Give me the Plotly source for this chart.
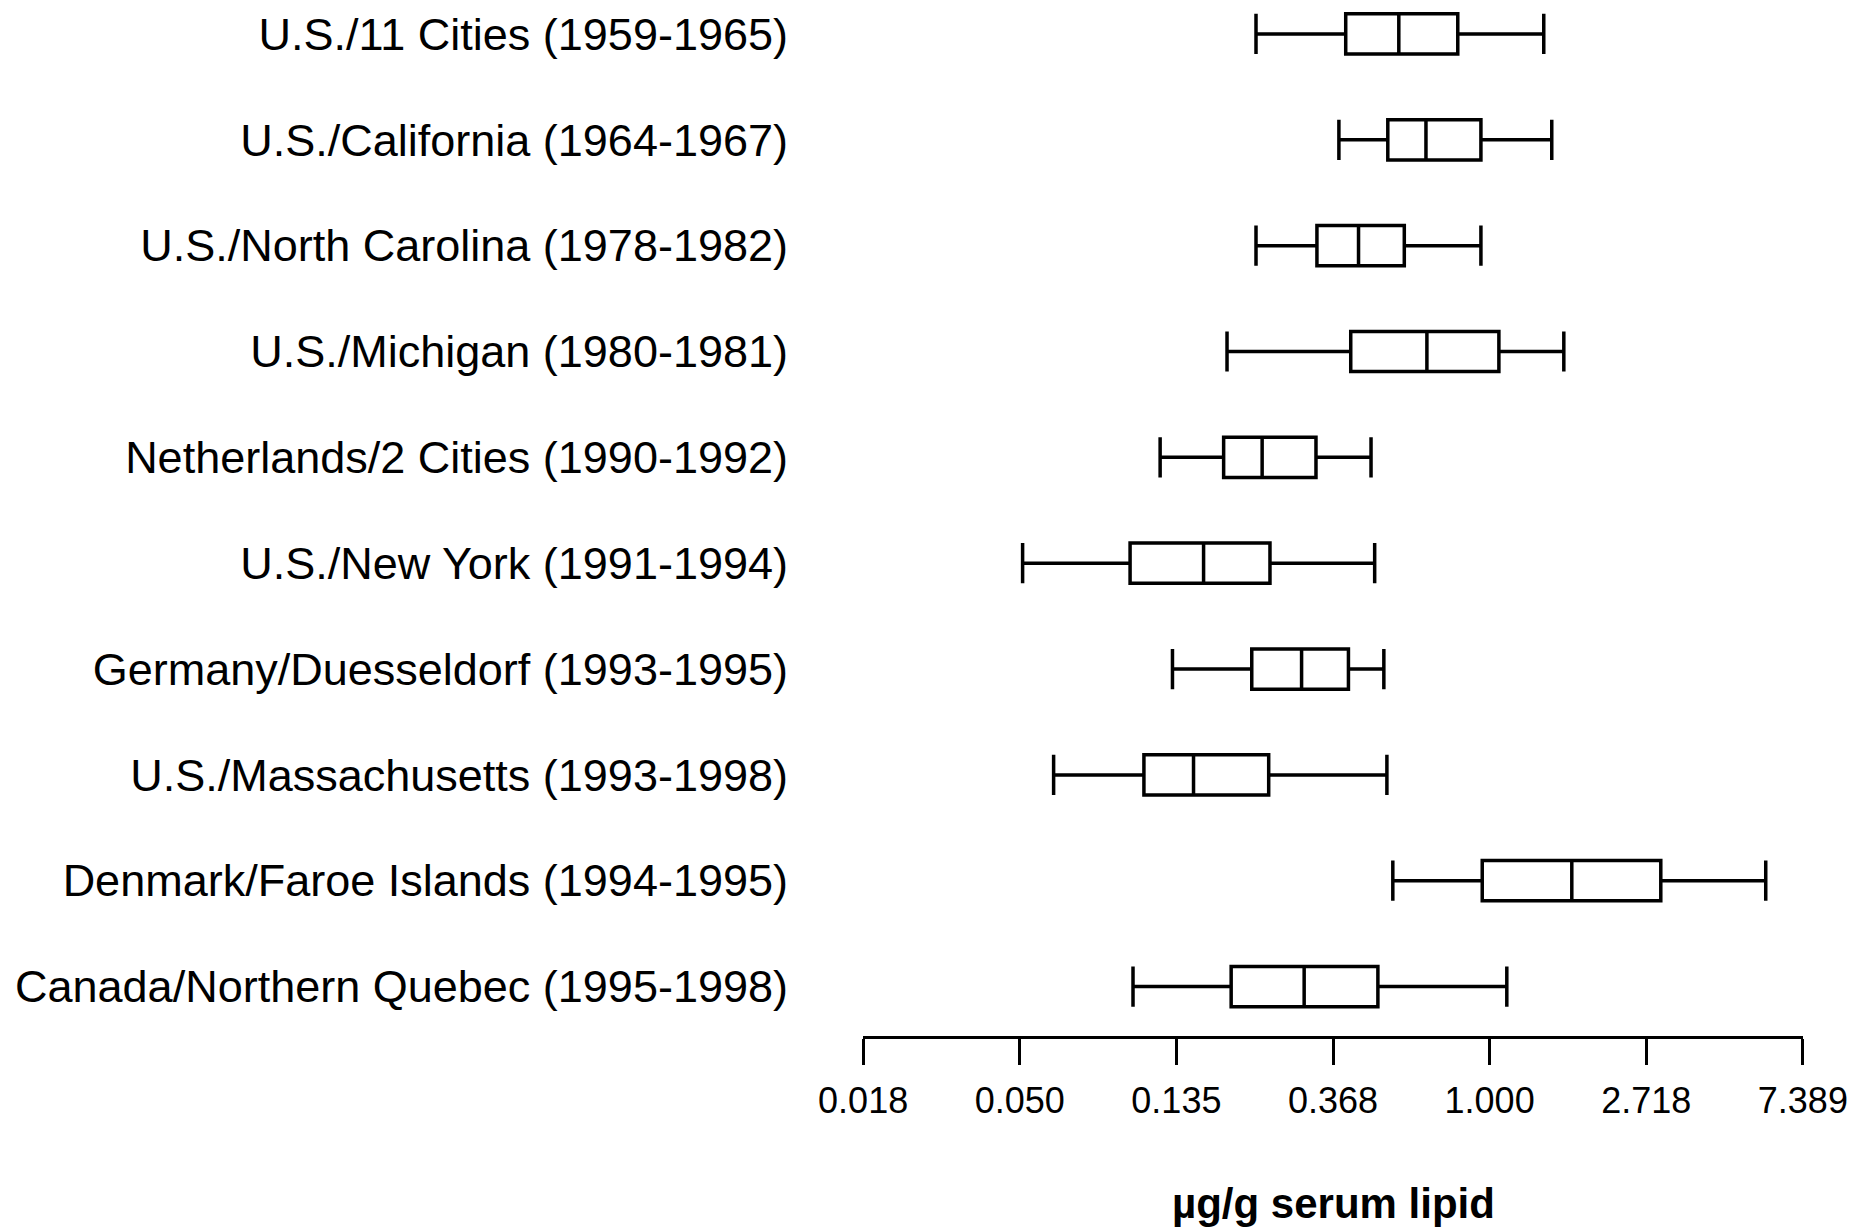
import math
import plotly.graph_objects as go

studies = [
    "U.S./11 Cities (1959-1965)",
    "U.S./California (1964-1967)",
    "U.S./North Carolina (1978-1982)",
    "U.S./Michigan (1980-1981)",
    "Netherlands/2 Cities (1990-1992)",
    "U.S./New York (1991-1994)",
    "Germany/Duesseldorf (1993-1995)",
    "U.S./Massachusetts (1993-1998)",
    "Denmark/Faroe Islands (1994-1995)",
    "Canada/Northern Quebec (1995-1998)",
]
lower_whisker = [0.225, 0.382, 0.225, 0.187, 0.122, 0.0507, 0.132, 0.0618, 0.539, 0.1026]
q1_values = [0.399, 0.522, 0.332, 0.412, 0.183, 0.1007, 0.219, 0.110, 0.954, 0.192]
median_values = [0.560, 0.666, 0.433, 0.670, 0.234, 0.161, 0.301, 0.151, 1.690, 0.306]
q3_values = [0.816, 0.946, 0.580, 1.061, 0.330, 0.246, 0.406, 0.244, 2.983, 0.490]
upper_whisker = [1.413, 1.487, 0.946, 1.606, 0.469, 0.480, 0.509, 0.519, 5.83, 1.116]

tick_values = [math.exp(k) for k in range(-4, 3)]
tick_labels = ["0.018", "0.050", "0.135", "0.368", "1.000", "2.718", "7.389"]
axis_title = "µg/g serum lipid"

LABEL_FONT = "Liberation Sans, Arial, Helvetica, sans-serif"

fig = go.Figure()
fig.add_trace(go.Box(
    y=studies,
    q1=q1_values,
    median=median_values,
    q3=q3_values,
    lowerfence=lower_whisker,
    upperfence=upper_whisker,
    orientation="h",
    boxpoints=False,
    width=0.38,
    whiskerwidth=1,
    fillcolor="white",
    line=dict(color="black", width=3.5),
    showlegend=False,
    hoverinfo="skip",
))

lo = math.log10(math.exp(-4))
hi = math.log10(math.exp(2))
pad = 0.0004

fig.update_layout(
    width=1851,
    height=1231,
    margin=dict(l=863, r=48, t=0, b=195, autoexpand=False),
    paper_bgcolor="white",
    plot_bgcolor="white",
    showlegend=False,
    xaxis=dict(
        type="log",
        range=[lo - pad, hi + pad],
        tickmode="array",
        tickvals=tick_values,
        ticktext=tick_labels,
        ticks="outside",
        ticklen=26,
        tickwidth=3,
        tickcolor="black",
        showline=True,
        linewidth=3,
        linecolor="black",
        showgrid=False,
        zeroline=False,
        automargin=False,
        ticklabelstandoff=5,
        tickfont=dict(family=LABEL_FONT, size=36, color="black"),
    ),
    yaxis=dict(
        type="category",
        categoryorder="array",
        categoryarray=studies,
        range=[9.467, -0.321],
        showline=False,
        showgrid=False,
        zeroline=False,
        ticks="",
        automargin=False,
        ticklabelstandoff=74,
        tickfont=dict(family=LABEL_FONT, size=45, color="black"),
    ),
    annotations=[dict(
        text="<b>" + axis_title + "</b>",
        xref="paper", yref="paper",
        x=0.5, y=-0.162,
        xanchor="center", yanchor="middle",
        showarrow=False,
        font=dict(family=LABEL_FONT, size=42, color="black"),
    )],
)

fig.write_html(
    "out.html",
    config={"displayModeBar": False},
    post_script="document.body.style.margin='0px';document.body.style.overflow='hidden';",
)
